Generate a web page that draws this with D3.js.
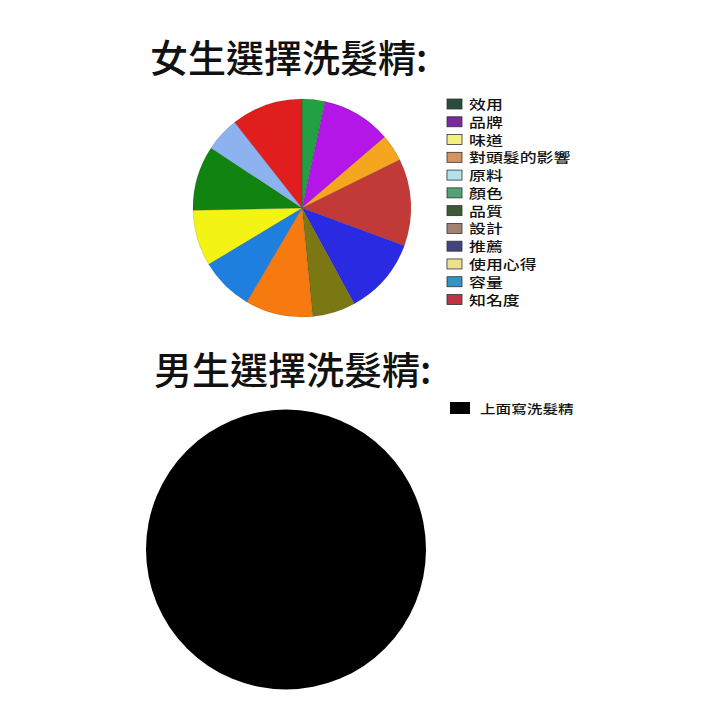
<!DOCTYPE html>
<html>
<head>
<meta charset="utf-8">
<script src="https://cdn.jsdelivr.net/npm/d3@7"></script>
<style>
  html, body { margin: 0; padding: 0; background: #fff; }
  svg { display: block; }
  text { font-family: "Noto Sans CJK TC", "Noto Sans CJK SC", sans-serif; }
</style>
</head>
<body>
<svg id="chart" width="715" height="715"></svg>
<script>
// ---- Data ----
const femaleCategories = ["效用", "品牌", "味道", "對頭髮的影響", "原料", "顏色", "品質", "設計", "推薦", "使用心得", "容量", "知名度"];
const femaleValues = [3.4, 10.3, 4.0, 12.9, 11.4, 6.4, 10.0, 7.9, 8.3, 9.6, 5.1, 10.6];
const femaleSliceColors = ["#22a043", "#b316e6", "#f6a51f", "#c23a38", "#2a2ae2", "#7b7712", "#f67a10", "#1e7fdf", "#f4f414", "#118311", "#8cb2f0", "#e11e1e"];
const femaleLegendColors = ["#2b4b3b", "#7a2a9a", "#f2f07e", "#d39363", "#b3e2ea", "#52a274", "#3c5a33", "#a28171", "#43437f", "#efe08e", "#3393c3", "#c03342"];

const maleCategories = ["上面寫洗髮精"];
const maleValues = [100];
const maleColors = ["#000000"];

const titles = ["女生選擇洗髮精:", "男生選擇洗髮精:"];

// ---- Drawing ----
const svg = d3.select("#chart");
svg.append("rect").attr("width", 715).attr("height", 715).attr("fill", "#fff");

// Titles
svg.append("text").attr("x", 150).attr("y", 72)
  .attr("font-size", 38).attr("font-weight", 500).attr("fill", "#111")
  .text(titles[0]);
svg.append("text").attr("x", 154).attr("y", 384)
  .attr("font-size", 38).attr("font-weight", 500).attr("fill", "#111")
  .text(titles[1]);

// Female pie
const pie = d3.pie().sort(null).value(d => d);
const femaleArcs = pie(femaleValues);
const arcF = d3.arc().innerRadius(0).outerRadius(109);
const gF = svg.append("g").attr("transform", "translate(302,208)");
gF.selectAll("path").data(femaleArcs).join("path")
  .attr("d", arcF)
  .attr("fill", (d, i) => femaleSliceColors[i])
  .attr("stroke", "rgba(0,0,0,0.15)")
  .attr("stroke-width", 0.8);

// Female legend
const legY = d3.scalePoint().domain(femaleCategories).range([104, 299.5]);
const legF = svg.append("g");
const rowsF = legF.selectAll("g").data(femaleCategories).join("g")
  .attr("transform", d => `translate(447,${legY(d)})`);
rowsF.append("rect")
  .attr("x", 0).attr("y", -5).attr("width", 15).attr("height", 10)
  .attr("fill", (d, i) => femaleLegendColors[i])
  .attr("stroke", "#333").attr("stroke-width", 0.8);
rowsF.append("text")
  .attr("transform", "translate(22,5) scale(1.3,1)")
  .attr("font-size", 13).attr("font-weight", 500).attr("fill", "#111")
  .text(d => d);

// Male pie
const maleArcs = pie(maleValues);
const arcM = d3.arc().innerRadius(0).outerRadius(140);
const gM = svg.append("g").attr("transform", "translate(286,549.5)");
gM.selectAll("path").data(maleArcs).join("path")
  .attr("d", arcM)
  .attr("fill", (d, i) => maleColors[i]);

// Male legend
const legM = svg.append("g").selectAll("g").data(maleCategories).join("g")
  .attr("transform", "translate(450,408)");
legM.append("rect")
  .attr("x", 0).attr("y", -6).attr("width", 20).attr("height", 12)
  .attr("fill", (d, i) => maleColors[i]);
legM.append("text")
  .attr("transform", "translate(30,5.5) scale(1.25,1)")
  .attr("font-size", 12.5).attr("font-weight", 500).attr("fill", "#111")
  .text(d => d);
</script>
</body>
</html>
